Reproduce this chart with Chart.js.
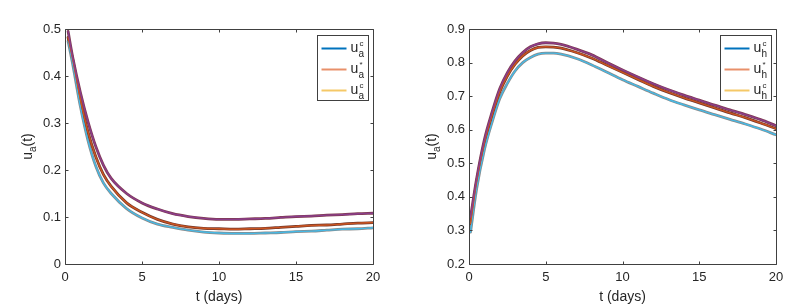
<!DOCTYPE html>
<html>
<head>
<meta charset="utf-8">
<script src="https://cdn.jsdelivr.net/npm/chart.js@4/dist/chart.umd.min.js"></script>
<style>
    html, body { margin: 0; padding: 0; background: #fff; }
    .wrap { position: relative; width: 808px; height: 306px; }
    .panel { position: absolute; top: 0; width: 404px; height: 306px; }
    #left-panel { left: 0; }
    #right-panel { left: 404px; }
</style>
</head>
<body>
<div class="wrap">
    <div class="panel" id="left-panel"><canvas id="chart-a" width="404" height="306"></canvas></div>
    <div class="panel" id="right-panel"><canvas id="chart-h" width="404" height="306"></canvas></div>
</div>
<script>
// --- data ---
const tA = [0.2, 0.5, 1, 1.5, 2, 2.5, 3, 4, 5, 6, 7, 8, 9, 10, 11, 12, 13, 14, 15, 16, 17, 18, 19, 20];
const uaTop = [0.495, 0.440, 0.365, 0.302, 0.250, 0.210, 0.182, 0.150, 0.130, 0.117, 0.107, 0.101, 0.097, 0.095, 0.095, 0.096, 0.097, 0.099, 0.101, 0.102, 0.104, 0.105, 0.107, 0.108];
const uaMid = [0.482, 0.435, 0.350, 0.280, 0.228, 0.190, 0.165, 0.130, 0.110, 0.095, 0.085, 0.079, 0.076, 0.075, 0.074, 0.075, 0.076, 0.078, 0.080, 0.082, 0.083, 0.085, 0.087, 0.088];
const uaLow = [0.474, 0.425, 0.335, 0.262, 0.208, 0.172, 0.150, 0.118, 0.098, 0.085, 0.078, 0.072, 0.068, 0.066, 0.065, 0.065, 0.066, 0.067, 0.069, 0.070, 0.072, 0.074, 0.075, 0.077];

const tH = [0.1, 0.5, 1, 1.5, 2, 2.5, 3, 3.5, 4, 4.5, 5, 5.5, 6, 7, 8, 9, 10, 11, 12, 13, 14, 15, 16, 17, 18, 19, 20];
const uhTop = [0.340, 0.455, 0.570, 0.652, 0.722, 0.770, 0.805, 0.830, 0.847, 0.856, 0.859, 0.858, 0.854, 0.840, 0.823, 0.800, 0.778, 0.757, 0.737, 0.719, 0.703, 0.688, 0.673, 0.659, 0.645, 0.630, 0.612];
const uhMid = [0.320, 0.445, 0.560, 0.642, 0.712, 0.760, 0.795, 0.820, 0.836, 0.845, 0.847, 0.846, 0.843, 0.830, 0.813, 0.792, 0.771, 0.750, 0.729, 0.711, 0.695, 0.680, 0.665, 0.650, 0.636, 0.620, 0.603];
const uhLow = [0.295, 0.425, 0.540, 0.622, 0.692, 0.738, 0.775, 0.800, 0.815, 0.825, 0.828, 0.828, 0.825, 0.812, 0.793, 0.771, 0.749, 0.729, 0.709, 0.690, 0.674, 0.659, 0.645, 0.631, 0.617, 0.602, 0.585];

const xTicks = [0, 5, 10, 15, 20];
const yTicksA = [0, 0.1, 0.2, 0.3, 0.4, 0.5];
const yTicksH = [0.2, 0.3, 0.4, 0.5, 0.6, 0.7, 0.8, 0.9];
const legendSups = ['c', '*', 'c'];
const legendColors = ['#0072BD', '#E8906A', '#F5C867'];

// curve colours: [main, edge]
const curveColors = [['#8b3d8c', '#7f3b50'], ['#cc5420', '#74392a'], ['#45b9e6', '#8a8a8a']];

const axisColor = '#404040';
const textColor = '#262626';
const fontFamily = '"Liberation Sans", Arial, Helvetica, sans-serif';

function makeDatasets(t, series) {
    const sets = [];
    series.forEach((values, i) => {
        const pts = t.map((x, k) => ({ x: x, y: values[k] }));
        sets.push({ data: pts, borderColor: curveColors[i][1], borderWidth: 2.8, order: 2 });
        sets.push({ data: pts, borderColor: curveColors[i][0], borderWidth: 1.4, order: 1 });
    });
    return sets;
}

// box around plot area with inward ticks, MATLAB style
const boxPlugin = {
    id: 'boxPlugin',
    afterDraw(chart) {
        const { ctx, chartArea: a, scales } = chart;
        const L = Math.round(a.left) + 0.5, R = Math.round(a.right) + 0.5;
        const T = Math.round(a.top) + 0.5, B = Math.round(a.bottom) + 0.5;
        ctx.save();
        ctx.strokeStyle = axisColor;
        ctx.lineWidth = 1;
        ctx.beginPath();
        ctx.rect(L, T, R - L, B - T);
        xTicks.forEach(v => {
            const px = Math.round(scales.x.getPixelForValue(v)) + 0.5;
            ctx.moveTo(px, B); ctx.lineTo(px, B - 3);
            ctx.moveTo(px, T); ctx.lineTo(px, T + 3);
        });
        scales.y.ticks.forEach(tk => {
            const py = Math.round(scales.y.getPixelForValue(tk.value)) + 0.5;
            ctx.moveTo(L, py); ctx.lineTo(L + 3, py);
            ctx.moveTo(R, py); ctx.lineTo(R - 3, py);
        });
        ctx.stroke();
        ctx.restore();
    }
};

// rotated y title with a subscript
const yTitlePlugin = {
    id: 'yTitlePlugin',
    afterDraw(chart, args, opts) {
        const { ctx, chartArea: a } = chart;
        const big = '14px ' + fontFamily, small = '10px ' + fontFamily;
        ctx.save();
        ctx.font = big;
        const wU = ctx.measureText('u').width, wT = ctx.measureText('(t)').width;
        ctx.font = small;
        const wS = ctx.measureText(opts.sub).width;
        const w = wU + wS + wT;
        ctx.translate(opts.x, (a.top + a.bottom) / 2);
        ctx.rotate(-Math.PI / 2);
        ctx.fillStyle = textColor;
        ctx.textBaseline = 'alphabetic';
        let x = -w / 2;
        ctx.font = big;
        ctx.fillText('u', x, 4);
        x += wU;
        ctx.font = small;
        ctx.fillText(opts.sub, x, 8);
        x += wS;
        ctx.font = big;
        ctx.fillText('(t)', x, 4);
        ctx.restore();
    }
};

// legend box with u_sub^sup entries
const legendPlugin = {
    id: 'legendPlugin',
    afterDraw(chart, args, opts) {
        const { ctx, chartArea: a } = chart;
        const bx = Math.round(a.right) - 56 + 0.5, by = Math.round(a.top) + 6 + 0.5;
        ctx.save();
        ctx.fillStyle = '#fff';
        ctx.fillRect(bx, by, 51, 65);
        ctx.strokeStyle = axisColor;
        ctx.lineWidth = 1;
        ctx.strokeRect(bx, by, 51, 65);
        legendColors.forEach((c, i) => {
            const ry = by + 13 + i * 21;
            ctx.strokeStyle = c;
            ctx.lineWidth = 2;
            ctx.beginPath();
            ctx.moveTo(bx + 4, ry);
            ctx.lineTo(bx + 29, ry);
            ctx.stroke();
            ctx.fillStyle = textColor;
            ctx.font = '14px ' + fontFamily;
            ctx.fillText('u', bx + 33, ry + 3);
            ctx.font = '10px ' + fontFamily;
            ctx.fillText(opts.sub, bx + 41, ry + 8);
            ctx.font = '8px ' + fontFamily;
            ctx.fillText(legendSups[i], bx + 42, ry - 3);
        });
        ctx.restore();
    }
};

function makeChart(canvasId, t, series, yMin, yMax, yTicks, sub, rightPad) {
    return new Chart(document.getElementById(canvasId), {
        type: 'line',
        data: { datasets: makeDatasets(t, series) },
        options: {
            responsive: false,
            animation: false,
            devicePixelRatio: 1,
            layout: { padding: { top: 29, right: rightPad, left: 0, bottom: 0 } },
            elements: {
                point: { radius: 0 },
                line: { cubicInterpolationMode: 'monotone', borderCapStyle: 'round' }
            },
            plugins: {
                legend: { display: false },
                tooltip: { enabled: false },
                yTitlePlugin: { sub: 'a', x: 28 },
                legendPlugin: { sub: sub }
            },
            scales: {
                x: {
                    type: 'linear',
                    min: 0,
                    max: 20,
                    afterBuildTicks: s => { s.ticks = xTicks.map(v => ({ value: v })); },
                    afterFit: s => { s.height = 42; },
                    grid: { display: false, drawTicks: false },
                    border: { display: false },
                    ticks: { color: textColor, font: { family: fontFamily, size: 13 }, padding: 6, maxRotation: 0 },
                    title: {
                        display: true,
                        text: 't (days)',
                        color: textColor,
                        font: { family: fontFamily, size: 14 },
                        padding: { top: 0, bottom: 0 }
                    }
                },
                y: {
                    type: 'linear',
                    min: yMin,
                    max: yMax,
                    afterBuildTicks: s => { s.ticks = yTicks.map(v => ({ value: v })); },
                    afterFit: s => { s.width = 65; },
                    grid: { display: false, drawTicks: false },
                    border: { display: false },
                    ticks: {
                        color: textColor,
                        font: { family: fontFamily, size: 13 },
                        padding: 4,
                        callback: v => String(+v.toFixed(1))
                    }
                }
            }
        },
        plugins: [boxPlugin, yTitlePlugin, legendPlugin]
    });
}

makeChart('chart-a', tA, [uaTop, uaMid, uaLow], 0, 0.5, yTicksA, 'a', 31);
makeChart('chart-h', tH, [uhTop, uhMid, uhLow], 0.2, 0.9, yTicksH, 'h', 32);
</script>
</body>
</html>
